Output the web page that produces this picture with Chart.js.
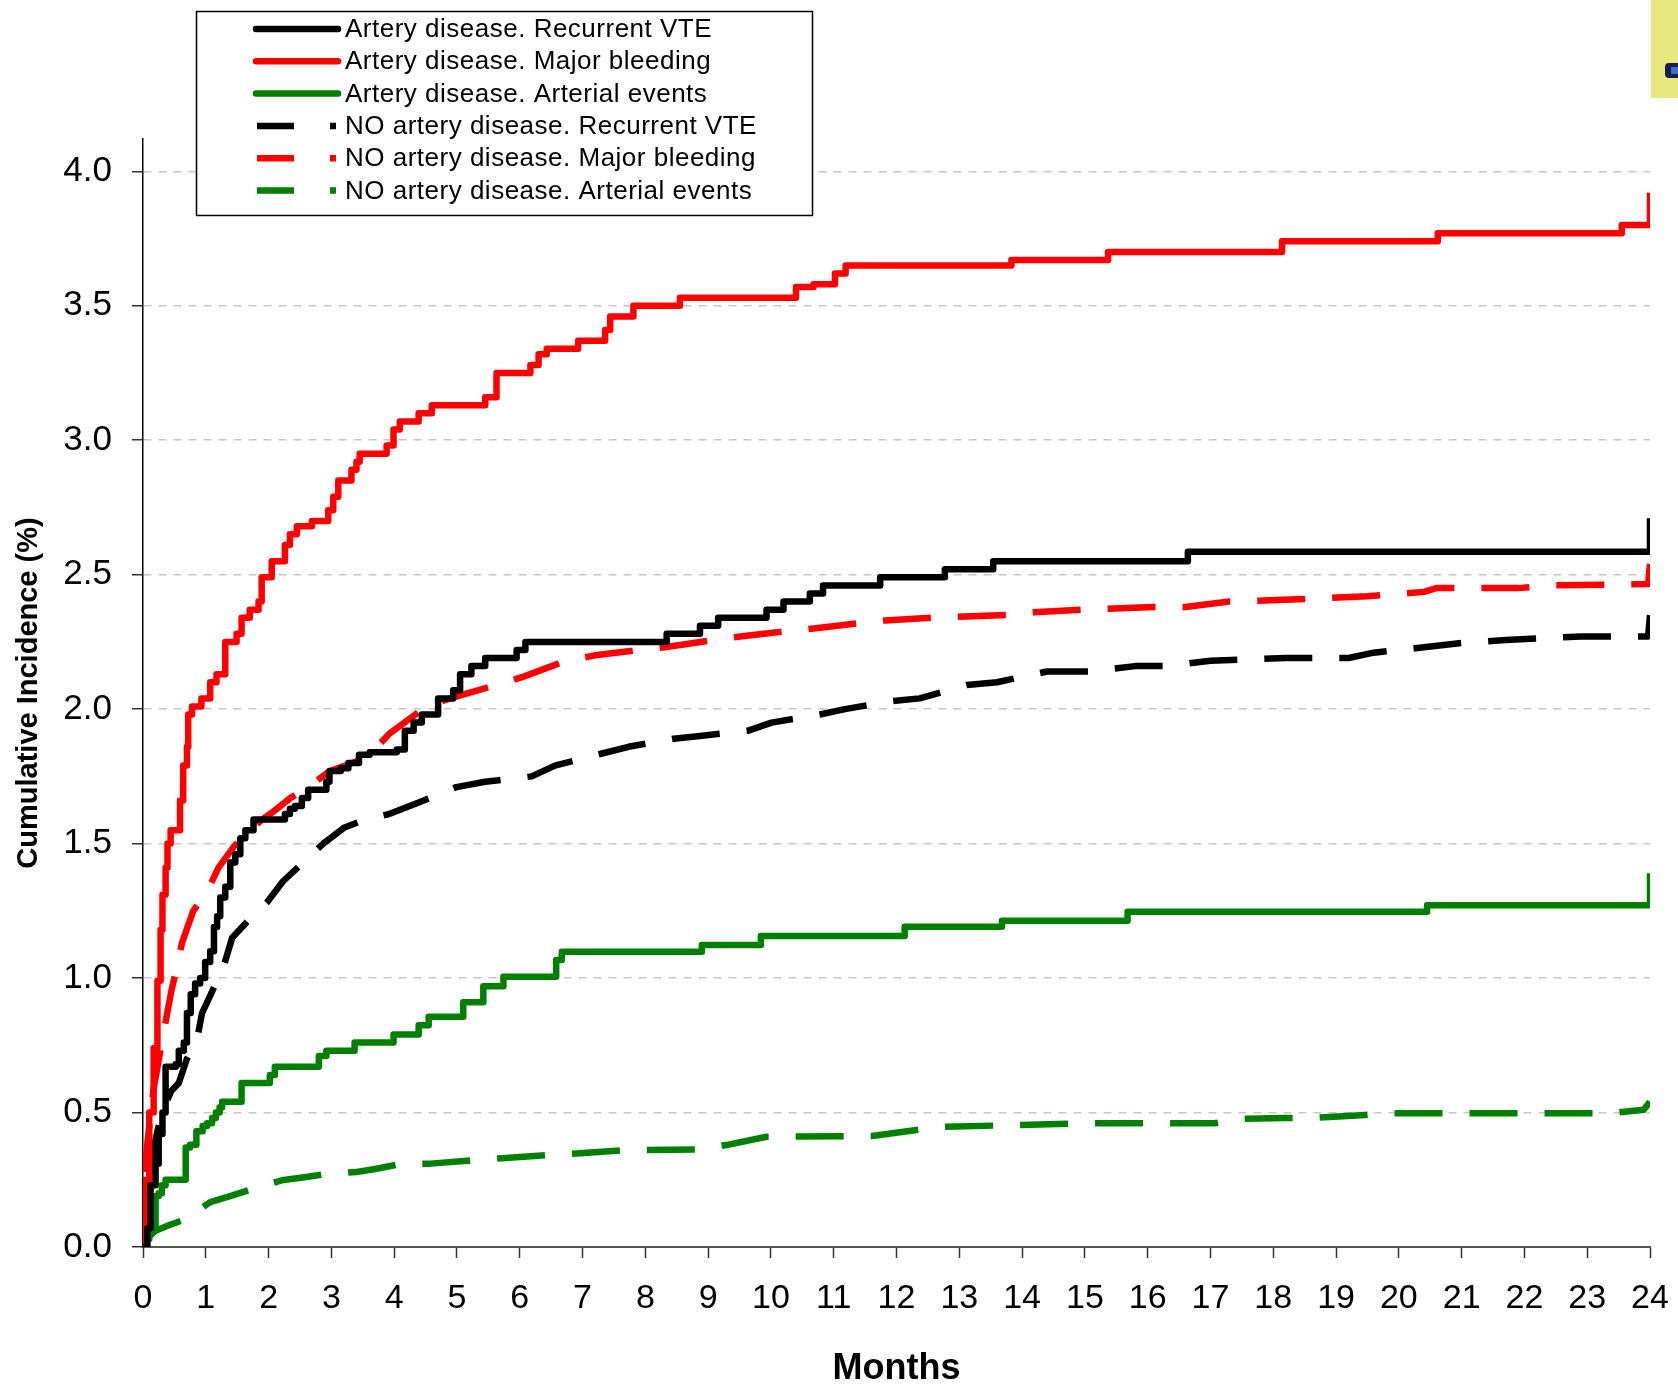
<!DOCTYPE html>
<html>
<head>
<meta charset="utf-8">
<title>Cumulative incidence by artery disease</title>
<script src="https://cdn.jsdelivr.net/npm/chart.js@4.4.1/dist/chart.umd.min.js"></script>
<style>
  html, body { margin: 0; padding: 0; background: #fff; }
  #wrap { width: 1678px; height: 1387px; }
</style>
</head>
<body>
<div id="wrap"><canvas id="kmChart" width="1678" height="1387"></canvas></div>
<script>
// Cumulative incidence curves as [month, percent]

// Artery disease
const vteArtery = [
  [0, 0], [0.07, 0.07], [0.12, 0.23], [0.20, 0.31], [0.25, 0.42], [0.31, 0.50], [0.36, 0.67],
  [0.52, 0.68], [0.57, 0.73], [0.65, 0.76], [0.70, 0.87], [0.76, 0.94], [0.83, 0.98], [0.91, 1.00],
  [0.99, 1.06], [1.07, 1.10], [1.13, 1.19], [1.18, 1.23], [1.23, 1.30], [1.31, 1.34], [1.39, 1.43],
  [1.47, 1.46], [1.55, 1.52], [1.63, 1.55], [1.76, 1.59], [2.26, 1.61], [2.34, 1.63], [2.42, 1.64],
  [2.53, 1.67], [2.63, 1.70], [2.92, 1.73], [2.97, 1.77], [3.15, 1.78], [3.27, 1.80], [3.44, 1.83],
  [3.61, 1.84], [4.04, 1.85], [4.17, 1.92], [4.31, 1.95], [4.44, 1.98], [4.70, 2.04], [4.94, 2.07],
  [5.05, 2.13], [5.23, 2.16], [5.45, 2.19], [5.95, 2.22], [6.09, 2.25], [8.34, 2.28], [8.87, 2.31],
  [9.16, 2.34], [9.93, 2.37], [10.20, 2.40], [10.62, 2.43], [10.83, 2.46], [11.74, 2.49],
  [12.77, 2.52], [13.54, 2.55], [16.64, 2.585], [24, 2.71]
];
const bleedArtery = [
  [0, 0], [0.04, 0.25], [0.10, 0.50], [0.17, 0.74], [0.23, 0.99], [0.28, 1.18], [0.31, 1.31],
  [0.36, 1.41], [0.39, 1.50], [0.44, 1.55], [0.59, 1.66], [0.64, 1.79], [0.70, 1.86], [0.72, 1.98],
  [0.78, 2.01], [0.93, 2.04], [1.07, 2.10], [1.17, 2.13], [1.31, 2.25], [1.49, 2.28], [1.57, 2.34],
  [1.70, 2.37], [1.84, 2.40], [1.89, 2.49], [2.05, 2.55], [2.26, 2.61], [2.34, 2.65], [2.45, 2.68],
  [2.69, 2.70], [2.95, 2.74], [3.03, 2.79], [3.11, 2.85], [3.32, 2.89], [3.40, 2.92], [3.45, 2.95],
  [3.88, 2.98], [3.99, 3.04], [4.09, 3.07], [4.39, 3.10], [4.60, 3.13], [5.45, 3.16], [5.63, 3.25],
  [6.17, 3.28], [6.30, 3.32], [6.43, 3.34], [6.93, 3.37], [7.36, 3.41], [7.44, 3.46], [7.81, 3.50],
  [8.55, 3.53], [10.40, 3.57], [10.68, 3.58], [11.02, 3.62], [11.19, 3.65], [13.83, 3.67],
  [15.37, 3.70], [18.14, 3.74], [20.62, 3.77], [23.55, 3.80], [24, 3.92]
];
const arterialArtery = [
  [0, 0], [0.05, 0.03], [0.10, 0.07], [0.20, 0.19], [0.25, 0.20], [0.30, 0.23], [0.36, 0.25],
  [0.68, 0.37], [0.75, 0.38], [0.85, 0.43], [0.95, 0.45], [1.02, 0.46], [1.10, 0.48], [1.16, 0.50],
  [1.22, 0.52], [1.26, 0.54], [1.57, 0.61], [2.02, 0.64], [2.10, 0.67], [2.80, 0.71], [2.92, 0.73],
  [3.37, 0.76], [3.99, 0.79], [4.39, 0.825], [4.55, 0.856], [5.10, 0.91], [5.42, 0.97],
  [5.74, 1.005], [6.58, 1.067], [6.67, 1.098], [8.90, 1.123], [9.84, 1.156], [12.13, 1.191],
  [13.68, 1.213], [15.68, 1.247], [20.45, 1.271], [24, 1.39]
];

// NO artery disease
const vteNoArtery = [
  [0, 0], [0.05, 0.10], [0.10, 0.25], [0.20, 0.40], [0.30, 0.50], [0.45, 0.58], [0.57, 0.61],
  [0.70, 0.70], [0.86, 0.77], [0.94, 0.87], [1.10, 0.95], [1.28, 1.04], [1.42, 1.15], [1.70, 1.22],
  [1.97, 1.28], [2.23, 1.36], [2.55, 1.43], [2.87, 1.50], [3.21, 1.56], [3.55, 1.59], [3.92, 1.61],
  [4.36, 1.65], [4.99, 1.71], [5.45, 1.73], [6.19, 1.75], [6.56, 1.79], [7.31, 1.835], [7.73, 1.86],
  [8.45, 1.89], [8.87, 1.90], [9.64, 1.92], [10.01, 1.95], [10.78, 1.98], [11.18, 2.00],
  [11.92, 2.03], [12.37, 2.04], [13.12, 2.09], [13.60, 2.10], [14.40, 2.14], [15.05, 2.14],
  [15.80, 2.16], [16.30, 2.16], [17.00, 2.18], [18.20, 2.19], [19.20, 2.19], [19.60, 2.21],
  [20.40, 2.23], [20.96, 2.245], [21.70, 2.257], [22.90, 2.27], [23.97, 2.27], [24, 2.35]
];
const bleedNoArtery = [
  [0, 0], [0.03, 0.30], [0.10, 0.45], [0.17, 0.59], [0.33, 0.80], [0.45, 0.95], [0.54, 1.04],
  [0.62, 1.13], [0.80, 1.25], [1.02, 1.32], [1.20, 1.41], [1.45, 1.49], [1.71, 1.55], [1.90, 1.59],
  [2.08, 1.62], [2.35, 1.67], [2.63, 1.71], [2.98, 1.77], [3.57, 1.82], [3.93, 1.91], [4.51, 2.01],
  [4.89, 2.04], [5.63, 2.09], [6.05, 2.12], [6.74, 2.18], [7.20, 2.20], [7.89, 2.22], [8.31, 2.23],
  [9.06, 2.256], [9.51, 2.27], [10.25, 2.29], [10.68, 2.30], [11.42, 2.32], [11.82, 2.33],
  [12.58, 2.34], [13.76, 2.35], [14.19, 2.36], [14.94, 2.37], [16.10, 2.38], [16.60, 2.38],
  [17.30, 2.40], [18.60, 2.41], [19.50, 2.42], [20.40, 2.436], [20.60, 2.45], [21.90, 2.45],
  [22.40, 2.46], [23.97, 2.465], [24, 2.54]
];
const arterialNoArtery = [
  [0, 0], [0.05, 0.03], [0.20, 0.06], [0.40, 0.08], [0.70, 0.105], [1.07, 0.167], [1.40, 0.19],
  [1.76, 0.217], [2.21, 0.248], [2.60, 0.26], [2.97, 0.273], [3.40, 0.279], [3.70, 0.29],
  [4.13, 0.31], [4.58, 0.31], [5.33, 0.324], [5.72, 0.33], [6.48, 0.342], [6.90, 0.348],
  [7.68, 0.36], [8.86, 0.363], [9.29, 0.379], [9.93, 0.41], [11.61, 0.413], [12.32, 0.435],
  [12.75, 0.447], [15.12, 0.46], [17.06, 0.46], [17.52, 0.477], [18.19, 0.48], [18.64, 0.48],
  [19.40, 0.49], [19.81, 0.497], [23.36, 0.497], [23.90, 0.51], [24, 0.54]
];

const seriesLabels = [
  'Artery disease. Recurrent VTE',
  'Artery disease. Major bleeding',
  'Artery disease. Arterial events',
  'NO artery disease. Recurrent VTE',
  'NO artery disease. Major bleeding',
  'NO artery disease. Arterial events'
];
const monthTicks = [0, 1, 2, 3, 4, 5, 6, 7, 8, 9, 10, 11, 12, 13, 14, 15, 16, 17, 18, 19, 20, 21, 22, 23, 24];
const pctTicks = [0, 0.5, 1.0, 1.5, 2.0, 2.5, 3.0, 3.5, 4.0];

const FONT = '"Liberation Sans", Arial, Helvetica, sans-serif';
const DASH = [48, 27];

function toPoints(pairs) {
  return pairs.map(p => ({ x: p[0], y: p[1] }));
}

function makeSet(label, pairs, color, dashed) {
  return {
    label: label,
    data: toPoints(pairs),
    borderColor: color,
    backgroundColor: color,
    borderWidth: 6.5,
    borderDash: dashed ? DASH : [],
    borderCapStyle: 'butt',
    borderJoinStyle: 'round',
    stepped: dashed ? false : true,
    tension: 0,
    pointRadius: 0,
    fill: false
  };
}

// Boxed legend in the top left and the yellow note corner at top right
const boxLegend = {
  id: 'boxLegend',
  afterDraw(chart) {
    const ctx = chart.ctx;
    ctx.save();

    ctx.fillStyle = '#E8E880';
    ctx.fillRect(1651, 0, 27, 98);
    ctx.fillStyle = '#1b1b4d';
    ctx.beginPath();
    ctx.roundRect(1665, 63, 16, 15, 4);
    ctx.fill();
    ctx.fillStyle = '#3a6fd0';
    ctx.fillRect(1671, 67, 7, 7);

    ctx.fillStyle = '#fff';
    ctx.fillRect(196, 11, 617, 205);
    ctx.lineWidth = 1.5;
    ctx.strokeStyle = '#000';
    ctx.strokeRect(196.5, 11.5, 616, 204);

    chart.data.datasets.forEach((ds, i) => {
      const y = 29 + i * 32.3;
      ctx.beginPath();
      ctx.strokeStyle = ds.borderColor;
      ctx.lineWidth = 6.5;
      if (ds.borderDash.length) {
        ctx.lineCap = 'butt';
        ctx.setLineDash([37, 36, 6, 100]);
        ctx.moveTo(257, y);
        ctx.lineTo(336, y);
      } else {
        ctx.lineCap = 'round';
        ctx.setLineDash([]);
        ctx.moveTo(256, y);
        ctx.lineTo(338, y);
      }
      ctx.stroke();
      ctx.setLineDash([]);

      ctx.fillStyle = '#000';
      ctx.font = '26px ' + FONT;
      ctx.letterSpacing = '0.5px';
      ctx.textBaseline = 'middle';
      ctx.textAlign = 'left';
      ctx.fillText(ds.label, 345, y + 1);
    });
    ctx.restore();
  }
};

const ctx = document.getElementById('kmChart').getContext('2d');
window.kmChart = new Chart(ctx, {
  type: 'line',
  data: {
    datasets: [
      makeSet(seriesLabels[0], vteArtery, '#000000', false),
      makeSet(seriesLabels[1], bleedArtery, '#FF0000', false),
      makeSet(seriesLabels[2], arterialArtery, '#008000', false),
      makeSet(seriesLabels[3], vteNoArtery, '#000000', true),
      makeSet(seriesLabels[4], bleedNoArtery, '#FF0000', true),
      makeSet(seriesLabels[5], arterialNoArtery, '#008000', true)
    ]
  },
  options: {
    responsive: false,
    animation: false,
    devicePixelRatio: 1,
    layout: {
      padding: { top: 139, right: 28, left: 0, bottom: 0 }
    },
    plugins: {
      legend: { display: false },
      tooltip: { enabled: false }
    },
    scales: {
      x: {
        type: 'linear',
        min: 0,
        max: 24,
        // fixed band height; the end labels may overhang without shrinking the plot
        afterFit: s => { s.height = 140; s.paddingLeft = 0; s.paddingRight = 0; },
        afterBuildTicks: s => { s.ticks = monthTicks.map(v => ({ value: v })); },
        grid: {
          drawOnChartArea: false,
          drawTicks: true,
          tickLength: 11,
          tickColor: '#333',
          tickWidth: 1.5
        },
        border: { color: '#555', width: 2 },
        ticks: {
          padding: 20,
          color: '#000',
          maxRotation: 0,
          autoSkip: false,
          font: { family: FONT, size: 34 },
          callback: v => String(v)
        },
        title: {
          display: true,
          text: 'Months',
          color: '#000',
          padding: { top: 0, bottom: 0 },
          font: { family: FONT, size: 36, weight: 'bold', lineHeight: 1 }
        }
      },
      y: {
        type: 'linear',
        min: 0,
        max: 4.12,
        afterFit: s => { s.width = 143; },
        afterBuildTicks: s => { s.ticks = pctTicks.map(v => ({ value: v })); },
        grid: {
          color: '#c8c8c8',
          lineWidth: 1.5,
          drawTicks: true,
          tickLength: 11,
          tickColor: '#333',
          tickWidth: 1.5,
          tickBorderDash: []
        },
        border: { color: '#000', width: 1.5, dash: [8, 7] },
        ticks: {
          padding: 20,
          color: '#000',
          autoSkip: false,
          font: { family: FONT, size: 35 },
          callback: v => v.toFixed(1)
        },
        title: {
          display: true,
          text: 'Cumulative Incidence (%)',
          color: '#000',
          padding: { top: 14, bottom: 0 },
          font: { family: FONT, size: 29, weight: 'bold', lineHeight: 1 }
        }
      }
    }
  },
  plugins: [boxLegend]
});
</script>
</body>
</html>
